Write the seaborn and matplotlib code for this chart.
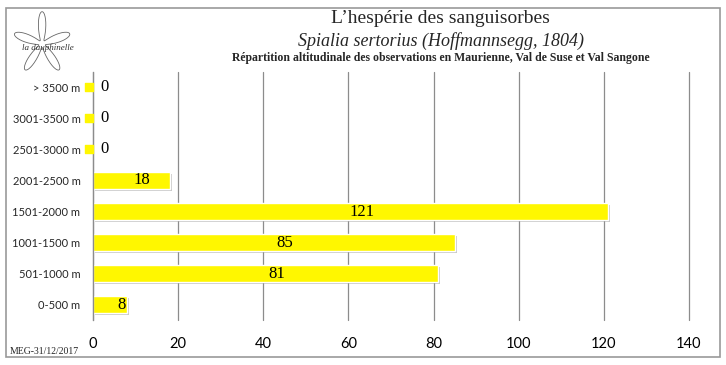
import numpy as np
import pandas as pd
import matplotlib
matplotlib.use("Agg")
import matplotlib.pyplot as plt
import matplotlib.patheffects as pe
import matplotlib.transforms as mtransforms
from matplotlib.patches import Rectangle
import seaborn as sns

# altitude classes, top to bottom as in the chart
classes = ['> 3500 m', '3001-3500 m', '2501-3000 m', '2001-2500 m',
           '1501-2000 m', '1001-1500 m', '501-1000 m', '0-500 m']
counts = [0, 0, 0, 18, 121, 85, 81, 8]
x_ticks = [0, 20, 40, 60, 80, 100, 120, 140]

title = "L\u2019hespérie des sanguisorbes"
subtitle = "Spialia sertorius (Hoffmannsegg, 1804)"
subtitle2 = "Répartition altitudinale des observations en Maurienne, Val de Suse et Val Sangone"
footer = "MEG-31/12/2017"
logo_text = "la dauphinelle"

df = pd.DataFrame({'classe': classes, 'n': counts})

sns.set_style("white")
plt.rcParams['font.family'] = ['Lato', 'DejaVu Sans']

fig = plt.figure(figsize=(7.26, 3.65), dpi=100)
ax = fig.add_axes([0.128, 0.123, 0.821, 0.68])

sns.barplot(data=df, x='n', y='classe', orient='h', color='#fff700',
            saturation=1, width=0.55, ax=ax)

for bar in ax.patches:
    bar.set_path_effects([pe.SimplePatchShadow(offset=(1.5, -1.5), shadow_rgbFace='#888888', alpha=0.45),
                          pe.Normal()])

# small yellow stub for empty classes
zero_rows = [i for i, v in enumerate(counts) if v == 0]
stub_tr = ax.transData + mtransforms.ScaledTranslation(-4 / 100, 0, fig.dpi_scale_trans)
ax.scatter([0] * len(zero_rows), zero_rows, marker='s', s=28, color='#fff700',
           transform=stub_tr, clip_on=False, zorder=5)

# value labels
for i, v in enumerate(counts):
    ax.annotate(str(v), xy=(v / 2, i), xytext=(8, 0), textcoords='offset points',
                ha='center', va='center', fontsize=12, family='Liberation Serif', color='black')

ax.set_xlim(0, 140)
ax.set_ylim(len(classes) - 0.5, -0.5)
ax.set_xticks(x_ticks)
ax.set_xticklabels([str(t) for t in x_ticks], fontsize=10.5, color='black')
ax.tick_params(axis='x', length=0, pad=12)
ax.tick_params(axis='y', length=0, pad=9, labelsize=8)
ax.set_xlabel('')
ax.set_ylabel('')
ax.xaxis.grid(True, color='#8c8c8c', linewidth=0.9)
for gl in ax.get_xgridlines():
    gl.set_clip_on(False)
ax.set_axisbelow(True)
for s in ['top', 'right', 'bottom']:
    ax.spines[s].set_visible(False)
ax.spines['left'].set_color('#8c8c8c')
ax.spines['left'].set_linewidth(0.9)

# outer frame
fig.patches.append(Rectangle((6 / 726, 8 / 365), 714 / 726, 349 / 365, transform=fig.transFigure,
                             fill=False, edgecolor='#999999', linewidth=1.2))

# logo: rough flower outline
t = np.linspace(0, 2 * np.pi, 600)
r = 0.12 + 0.88 * np.abs(np.cos(2.5 * (t - np.pi / 2))) ** 4
fx = 0.058 + 0.040 * r * np.cos(t)
fy = 0.880 + 0.088 * r * np.sin(t)
fig.add_artist(plt.Line2D(fx, fy, transform=fig.transFigure, color='#666666', linewidth=0.6))

fig.text(0.607, 0.948, title, ha='center', va='center', fontsize=14, family='Liberation Serif')
fig.text(0.607, 0.888, subtitle, ha='center', va='center', fontsize=13, style='italic',
         family='Liberation Serif')
fig.text(0.607, 0.842, subtitle2, ha='center', va='center', fontsize=8.5, weight='bold',
         family='Liberation Serif')
fig.text(0.014, 0.037, footer, ha='left', va='center', fontsize=7, family='Liberation Serif')
fig.text(0.066, 0.868, logo_text, ha='center', va='center', fontsize=6.5, style='italic',
         family='Liberation Serif', color='#333333')

fig.savefig('out.png', dpi=100)
